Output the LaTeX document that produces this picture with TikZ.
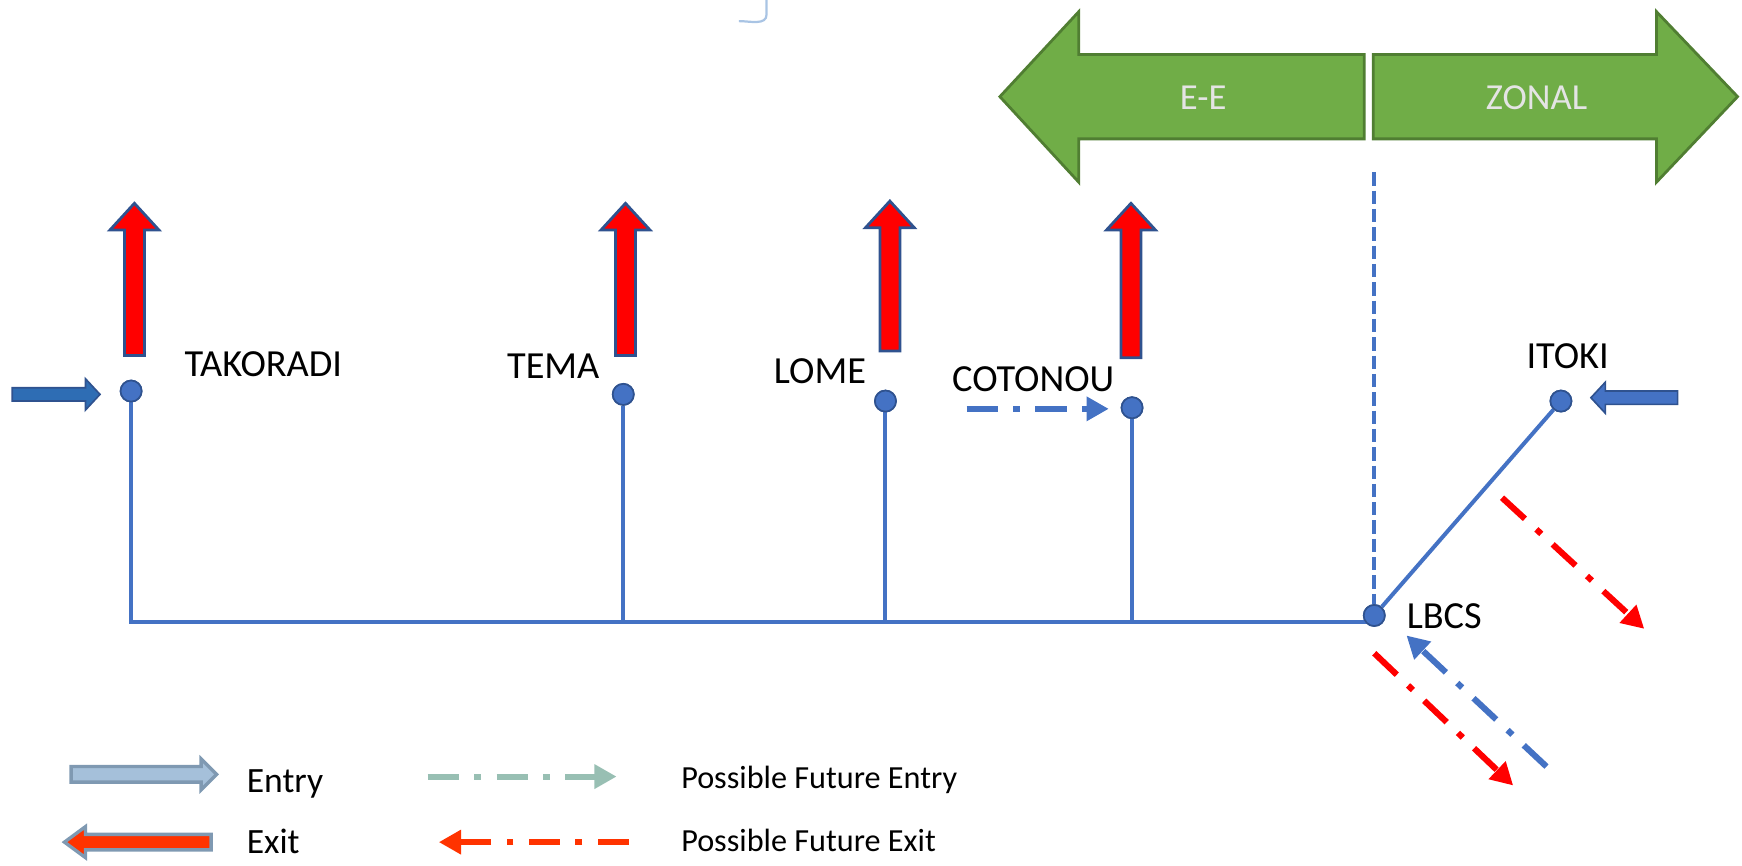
\documentclass[tikz,border=0pt]{standalone}
\usepackage{fontspec}
\setmainfont{Carlito}
\usetikzlibrary{arrows.meta}
\definecolor{lineblue}{HTML}{4472C4}
\definecolor{darkblue}{HTML}{2F528F}
\definecolor{entryblue}{HTML}{2E6DB4}
\definecolor{gfill}{HTML}{70AD47}
\definecolor{gborder}{HTML}{507E32}
\definecolor{exitred}{HTML}{FF0000}
\definecolor{legblue}{HTML}{A5C0DA}
\definecolor{legborder}{HTML}{7F99B2}
\definecolor{legteal}{HTML}{98BFB3}
\definecolor{legred}{HTML}{FF3300}
\definecolor{faint}{HTML}{A9C4E4}
\definecolor{ghosttext}{HTML}{E4E4E4}
\begin{document}
\begin{tikzpicture}[x=1pt,y=-1pt,
  station/.style={circle,fill=lineblue,draw=darkblue,line width=1.5pt,minimum size=19pt,inner sep=0pt},
  stlabel/.style={font=\fontsize{34.5}{40}\selectfont,inner sep=0pt,text=black},
  bus/.style={draw=lineblue,line width=3.6pt},
  busdash/.style={draw=lineblue,line width=3.6pt,dash pattern=on 12pt off 4.5pt},
  exitarrow/.style={fill=exitred,draw=darkblue,line width=2.5pt,line join=miter},
  entryarrow/.style={fill=entryblue,draw=darkblue,line width=1.5pt},
  zone/.style={fill=gfill,draw=gborder,line width=2.5pt},
  zonetext/.style={font=\fontsize{33}{38}\selectfont,text=ghosttext,inner sep=0pt},
  dashdot/.style={line width=5.5pt,dash pattern=on 28pt off 14pt on 6pt off 14pt,-{Triangle[length=20pt,width=21pt]}},
  legtext/.style={font=\fontsize{32}{38}\selectfont,anchor=base west,inner sep=0pt},
  legsmall/.style={font=\fontsize{29}{34}\selectfont,anchor=base west,inner sep=0pt}]
\useasboundingbox (0,0) rectangle (1568,779);

% faint bracket at the top
\draw[faint,line width=2pt] (690,0) -- (690,13) to[out=-90,in=0] (665,19);

% zone arrows
\draw[zone] (900,87) -- (971,10.5) -- (971,49) -- (1228,49) -- (1228,125) -- (971,125) -- (971,164) -- cycle;
\draw[zone] (1236,49) -- (1491,49) -- (1491,10.5) -- (1564,87) -- (1491,164) -- (1491,125) -- (1236,125) -- cycle;
\node[zonetext] (ee) at (1083,88) {E-E};
\node[zonetext] (zonal) at (1383,88) {ZONAL};

% stations
\node[station] (tak) at (118,352) {};
\node[station] (tema) at (561,355) {};
\node[station] (lome) at (797,361) {};
\node[station] (coto) at (1019,367) {};
\node[station] (lbcs) at (1237,554) {};
\node[station] (itoki) at (1405,361) {};
\coordinate (busend) at (1237,560);
\coordinate (ztop) at (1237,155);

% network lines
\draw[bus] (tak.south) |- (busend);
\draw[bus] (tema.south) -- (tema.south |- busend);
\draw[bus] (lome.south) -- (lome.south |- busend);
\draw[bus] (coto.south) -- (coto.south |- busend);
\draw[bus] (lbcs) -- (itoki);
\draw[busdash] (ztop) -- (lbcs.north);
% redraw nodes on top
\node[station] at (tak) {};
\node[station] at (tema) {};
\node[station] at (lome) {};
\node[station] at (coto) {};
\node[station] at (lbcs) {};
\node[station] at (itoki) {};

% labels
\node[stlabel] (ltak) at (237,328) {TAKORADI};
\node[stlabel] (ltema) at (498,330) {TEMA};
\node[stlabel] (llome) at (738,334) {LOME};
\node[stlabel] (lcoto) at (930,341) {COTONOU};
\node[stlabel] (litoki) at (1411,321) {ITOKI};
\node[stlabel] (llbcs) at (1300,555) {LBCS};

% exit arrows (up)
\foreach \x/\b/\t in {121/320/183, 563/320/183, 801/316/181, 1018/322/183}
  \draw[exitarrow] (\x-9,\b) -- (\x-9,\t+24) -- (\x-22,\t+24) -- (\x,\t)
     -- (\x+22,\t+24) -- (\x+9,\t+24) -- (\x+9,\b) -- cycle;

% entry arrows
\draw[entryarrow] (11,349) -- (77,349) -- (77,341) -- (90,355) -- (77,369) -- (77,361) -- (11,361) -- cycle;
\draw[entryarrow,fill=lineblue] (1510,352) -- (1445,352) -- (1445,344) -- (1432,358) -- (1445,372) -- (1445,364) -- (1510,364) -- cycle;

% possible future arrows
\coordinate (fe1) at (870,368);
\coordinate (fe2) at (998,368);
\draw[dashdot,lineblue] (fe1) -- (fe2);
\coordinate (fx1) at (1352,448);
\coordinate (fx2) at (1480,566);
\draw[dashdot,exitred] (fx1) -- (fx2);
\coordinate (fx3) at (1237,588);
\coordinate (fx4) at (1362,707);
\draw[dashdot,exitred] (fx3) -- (fx4);
\coordinate (fe3) at (1392,690);
\coordinate (fe4) at (1266,572);
\draw[dashdot,lineblue] (fe3) -- (fe4);

% legend
\draw[fill=legblue,draw=legborder,line width=3pt] (64,690) -- (181,690) -- (181,683) -- (195,697) -- (181,711) -- (181,704) -- (64,704) -- cycle;
\node[legtext] (lentry) at (222,713) {Entry};
\draw[fill=legred,draw=legborder,line width=3pt] (190,751) -- (77,751) -- (77,744) -- (58,758) -- (77,772) -- (77,765) -- (190,765) -- cycle;
\node[legtext] (lexit) at (222,768) {Exit};
\coordinate (lg1) at (385,699);
\coordinate (lg2) at (555,699);
\draw[dashdot,legteal] (lg1) -- (lg2);
\node[legsmall] (lpfe) at (613,710) {Possible Future Entry};
\coordinate (lg3) at (566,758);
\coordinate (lg4) at (395,758);
\draw[dashdot,legred] (lg3) -- (lg4);
\node[legsmall] (lpfx) at (613,766) {Possible Future Exit};
\end{tikzpicture}
\end{document}
